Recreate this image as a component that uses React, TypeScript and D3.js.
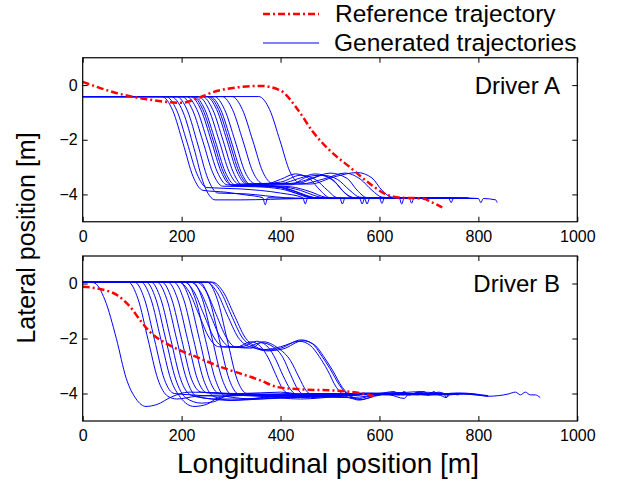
import React from 'react';
import * as d3 from 'd3';

type Pt = [number, number];

const xTicks = [0, 200, 400, 600, 800, 1000];
const yTicks = [-4, -2, 0];

// Driver A: reference trajectory
const refA: Pt[] = [[0, 0.12], [70, -0.3], [130, -0.52], [200, -0.65], [230, -0.5], [265, -0.25], [320, -0.07], [360, -0.03], [400, -0.2], [435, -0.9], [465, -1.7], [500, -2.4], [540, -3.0], [580, -3.6], [610, -3.97], [635, -4.1], [690, -4.16], [705, -4.28], [727, -4.47]];

// Driver A: generated trajectories
const a01: Pt[] = [[0, -0.42], [160, -0.42], [182, -0.93], [203, -2.14], [223, -3.34], [243, -3.85], [290, -3.92], [330, -4.02], [364, -4.12], [369, -4.38], [374, -4.12], [430, -4.15], [520, -4.13], [600, -4.15], [690, -4.12]];
const a02: Pt[] = [[0, -0.42], [168, -0.42], [190, -0.92], [211, -2.09], [231, -3.25], [251, -3.75], [320, -3.8], [400, -3.95], [445, -4.12], [450, -4.35], [455, -4.12], [530, -4.15], [620, -4.12], [760, -4.15]];
const a03: Pt[] = [[0, -0.42], [178, -0.42], [203, -0.99], [225, -2.31], [245, -3.63], [268, -4.2], [320, -4.2], [380, -4.18], [450, -4.15], [530, -4.15], [600, -4.15]];
const a04: Pt[] = [[0, -0.42], [190, -0.42], [212, -0.95], [233, -2.19], [253, -3.42], [273, -3.95], [330, -3.98], [370, -4.05], [410, -4.12], [480, -4.15], [560, -4.15], [650, -4.12]];
const a05: Pt[] = [[0, -0.42], [200, -0.42], [222, -0.91], [243, -2.06], [263, -3.21], [283, -3.7], [350, -3.72], [400, -3.8], [440, -4.0], [470, -4.12], [520, -4.15], [525, -4.35], [530, -4.15], [620, -4.13], [700, -4.15], [780, -4.12]];
const a06: Pt[] = [[0, -0.42], [210, -0.42], [231, -0.9], [252, -2.04], [272, -3.17], [292, -3.65], [360, -3.7], [400, -3.75], [430, -3.95], [460, -4.12], [500, -4.15], [560, -4.15], [565, -4.35], [570, -4.15], [650, -4.13], [740, -4.15]];
const a07: Pt[] = [[0, -0.42], [218, -0.42], [239, -0.9], [260, -2.04], [280, -3.17], [300, -3.65], [370, -3.62], [400, -3.45], [430, -3.25], [460, -3.45], [480, -3.85], [500, -4.12], [560, -4.15], [640, -4.13], [645, -4.35], [650, -4.13], [770, -4.15]];
const a08: Pt[] = [[0, -0.42], [226, -0.42], [247, -0.9], [268, -2.04], [288, -3.17], [308, -3.65], [380, -3.7], [420, -3.82], [450, -4.02], [480, -4.15], [550, -4.15], [640, -4.13], [720, -4.15]];
const a09: Pt[] = [[0, -0.42], [234, -0.42], [255, -0.9], [276, -2.04], [296, -3.17], [316, -3.62], [400, -3.6], [440, -3.4], [470, -3.25], [505, -3.45], [525, -3.85], [545, -4.12], [600, -4.15], [660, -4.12], [665, -4.32], [670, -4.12], [790, -4.15]];
const a10: Pt[] = [[0, -0.42], [242, -0.42], [263, -0.9], [284, -2.04], [304, -3.17], [324, -3.68], [400, -3.72], [440, -3.85], [470, -4.05], [500, -4.15], [570, -4.15], [575, -4.35], [580, -4.15], [680, -4.13], [760, -4.15]];
const a11: Pt[] = [[0, -0.42], [250, -0.42], [271, -0.9], [292, -2.04], [312, -3.17], [332, -3.62], [420, -3.6], [465, -3.4], [500, -3.22], [535, -3.42], [555, -3.85], [575, -4.12], [640, -4.15], [700, -4.13], [740, -4.15], [745, -4.3], [750, -4.13], [800, -4.15], [805, -4.3], [810, -4.15], [835, -4.2], [838, -4.3]];
const a12: Pt[] = [[0, -0.42], [258, -0.42], [279, -0.9], [300, -2.04], [320, -3.17], [340, -3.65], [420, -3.72], [460, -3.9], [490, -4.1], [520, -4.15], [600, -4.15], [700, -4.12]];
const a13: Pt[] = [[0, -0.42], [266, -0.42], [287, -0.9], [308, -2.04], [328, -3.17], [348, -3.6], [440, -3.62], [490, -3.42], [530, -3.22], [562, -3.45], [585, -3.85], [605, -4.1], [650, -4.15], [720, -4.12], [780, -4.15]];
const a14: Pt[] = [[0, -0.42], [282, -0.42], [303, -0.9], [324, -2.04], [344, -3.17], [364, -3.6], [400, -3.55], [440, -3.3], [470, -3.45], [495, -3.85], [515, -4.12], [580, -4.15], [660, -4.12], [750, -4.15]];
const a15: Pt[] = [[0, -0.42], [302, -0.42], [323, -0.9], [344, -2.04], [364, -3.17], [384, -3.6], [460, -3.62], [510, -3.35], [555, -3.2], [585, -3.4], [605, -3.85], [625, -4.1], [680, -4.15], [740, -4.13], [800, -4.15]];
const a16: Pt[] = [[0, -0.42], [356, -0.42], [378, -0.9], [399, -2.04], [419, -3.17], [440, -3.58], [460, -3.45], [485, -3.3], [515, -3.45], [540, -3.85], [560, -4.1], [620, -4.15], [700, -4.12], [760, -4.15]];
const a17: Pt[] = [[0, -0.42], [222, -0.42], [243, -0.9], [264, -2.04], [284, -3.17], [304, -3.68], [380, -3.68], [430, -3.9], [460, -4.1], [500, -4.15], [600, -4.13], [605, -4.33], [610, -4.13], [700, -4.15]];
const a18: Pt[] = [[0, -0.42], [254, -0.42], [275, -0.9], [296, -2.04], [316, -3.17], [336, -3.62], [420, -3.65], [455, -3.35], [480, -3.3], [510, -3.55], [530, -3.95], [550, -4.12], [620, -4.15], [730, -4.13]];
const genA: Pt[][] = [a01, a02, a03, a04, a05, a06, a07, a08, a09, a10, a11, a12, a13, a14, a15, a16, a17, a18];

// Driver B: reference trajectory
const refB: Pt[] = [[0, -0.12], [35, -0.2], [70, -0.43], [96, -0.85], [116, -1.33], [136, -1.76], [163, -2.12], [197, -2.43], [230, -2.67], [278, -3.03], [318, -3.27], [359, -3.52], [392, -3.76], [433, -3.84], [514, -3.9], [560, -3.98], [590, -4.1]];

// Driver B: generated trajectories
const b01: Pt[] = [[0, 0.05], [22, 0.03], [45, -0.6], [68, -2.0], [88, -3.45], [108, -4.2], [128, -4.47], [150, -4.4], [180, -4.12], [215, -3.95], [260, -3.97], [330, -4.05], [420, -4.0], [500, -4.05], [580, -4.02]];
const b02: Pt[] = [[0, 0.05], [92, 0.05], [112, -0.57], [132, -2.03], [152, -3.48], [172, -4.1], [190, -4.2], [230, -4.1], [300, -4.05], [380, -4.1], [460, -4.05], [540, -4.0], [640, -4.05]];
const b03: Pt[] = [[0, 0.05], [105, 0.05], [125, -0.57], [145, -2.03], [165, -3.48], [185, -4.0], [220, -4.05], [280, -4.1], [360, -4.05], [440, -4.1], [520, -4.0], [600, -4.05], [700, -4.0]];
const b04: Pt[] = [[0, 0.05], [118, 0.05], [138, -0.57], [158, -2.03], [178, -3.48], [198, -4.15], [225, -4.47], [250, -4.4], [275, -4.15], [320, -4.05], [400, -4.1], [480, -4.0], [560, -4.05]];
const b05: Pt[] = [[0, 0.05], [128, 0.05], [148, -0.57], [168, -2.03], [188, -3.48], [208, -4.15], [240, -4.35], [265, -4.3], [290, -4.1], [350, -4.02], [430, -4.05], [520, -4.0], [620, -4.05], [650, -4.18], [660, -4.0], [740, -4.05]];
const b06: Pt[] = [[0, 0.05], [138, 0.05], [158, -0.57], [178, -2.03], [198, -3.48], [218, -4.05], [260, -4.2], [300, -4.25], [360, -4.15], [420, -4.05], [500, -4.05], [580, -4.0], [680, -4.02]];
const b07: Pt[] = [[0, 0.05], [150, 0.05], [170, -0.57], [190, -2.03], [210, -3.48], [230, -4.1], [270, -4.2], [330, -4.2], [400, -4.1], [480, -4.0], [560, -4.05], [640, -4.0], [720, -4.05], [735, -4.15], [745, -4.0], [820, -4.1]];
const b08: Pt[] = [[0, 0.05], [160, 0.05], [180, -0.57], [200, -2.03], [220, -3.48], [240, -3.95], [300, -4.0], [380, -4.1], [460, -4.0], [540, -4.05], [620, -3.98], [700, -4.05]];
const b09: Pt[] = [[0, 0.05], [172, 0.05], [192, -0.57], [212, -2.03], [232, -3.48], [252, -3.98], [320, -4.0], [400, -3.95], [470, -4.1], [540, -4.05], [600, -4.0], [630, -3.93], [640, -4.05], [650, -3.93], [660, -4.05], [680, -3.95], [760, -4.05]];
const b10: Pt[] = [[0, 0.05], [184, 0.05], [204, -0.57], [224, -2.03], [244, -3.48], [264, -4.1], [300, -4.25], [360, -4.2], [440, -4.1], [520, -4.05], [600, -4.0], [650, -4.05]];
const b11: Pt[] = [[0, 0.05], [196, 0.05], [216, -0.57], [236, -2.03], [256, -3.48], [276, -4.0], [340, -4.05], [420, -4.15], [500, -4.05], [580, -3.98], [660, -4.02], [730, -4.0], [735, -4.15], [740, -4.0], [800, -4.05]];
const b12: Pt[] = [[0, 0.05], [208, 0.05], [228, -0.57], [248, -2.03], [268, -3.48], [288, -4.1], [350, -4.2], [420, -4.15], [500, -4.05], [600, -4.0], [700, -4.03]];
const b13: Pt[] = [[0, 0.05], [222, 0.05], [242, -0.57], [262, -2.03], [282, -3.48], [302, -4.05], [360, -4.1], [440, -4.2], [520, -4.1], [600, -4.0], [680, -4.02]];
const b14: Pt[] = [[0, 0.05], [236, 0.05], [256, -0.57], [276, -2.03], [296, -3.48], [316, -4.02], [380, -4.05], [460, -4.15], [540, -4.05], [620, -4.0], [690, -3.93], [700, -4.05], [710, -3.93], [720, -4.05], [760, -4.0]];
const b15: Pt[] = [[0, 0.05], [252, 0.05], [272, -0.57], [292, -2.03], [312, -3.48], [332, -4.0], [400, -4.05], [480, -4.1], [560, -4.02], [640, -4.0], [720, -4.03]];
const b16: Pt[] = [[0, 0.05], [195, 0.05], [215, -0.3], [235, -1.13], [255, -1.95], [275, -2.3], [310, -2.32], [340, -2.12], [360, -2.3], [375, -2.7], [390, -3.3], [405, -3.85], [422, -4.05], [480, -4.1], [560, -4.0], [640, -4.05], [700, -4.0]];
const b17: Pt[] = [[0, 0.05], [205, 0.05], [225, -0.3], [245, -1.13], [265, -1.95], [285, -2.3], [320, -2.3], [352, -2.1], [375, -2.32], [390, -2.75], [405, -3.35], [420, -3.85], [438, -4.08], [500, -4.12], [580, -4.0], [660, -4.05], [730, -4.0]];
const b18: Pt[] = [[0, 0.05], [218, 0.05], [238, -0.3], [258, -1.13], [278, -1.95], [298, -2.3], [330, -2.32], [360, -2.15], [385, -2.3], [405, -2.7], [420, -3.3], [435, -3.85], [452, -4.08], [520, -4.1], [600, -4.0], [680, -4.05]];
const b19: Pt[] = [[0, 0.05], [230, 0.05], [250, -0.3], [270, -1.13], [290, -1.95], [310, -2.32], [340, -2.35], [365, -2.12], [395, -2.35], [420, -2.8], [437, -3.4], [452, -3.9], [470, -4.1], [540, -4.15], [620, -4.02], [700, -4.05]];
const b20: Pt[] = [[0, 0.05], [262, 0.05], [284, -0.3], [306, -1.13], [328, -1.95], [350, -2.3], [372, -2.42], [400, -2.35], [442, -2.05], [465, -2.2], [482, -2.6], [500, -3.1], [520, -3.72], [540, -4.1], [558, -4.24], [580, -4.15], [600, -4.02], [640, -3.97], [660, -4.05], [680, -3.95], [700, -4.05], [720, -3.95], [740, -4.05], [780, -4.0], [820, -4.1], [860, -4.02], [875, -3.95], [885, -4.05], [895, -3.95], [905, -4.05], [915, -4.05], [925, -4.15]];
const b21: Pt[] = [[0, 0.05], [258, 0.05], [279, -0.3], [300, -1.13], [322, -1.95], [345, -2.3], [372, -2.45], [405, -2.38], [445, -2.08], [470, -2.25], [487, -2.65], [505, -3.15], [525, -3.78], [545, -4.12], [562, -4.22], [590, -4.1], [620, -4.0], [700, -4.05], [760, -3.98], [820, -4.08]];
const b22: Pt[] = [[0, 0.05], [250, 0.05], [271, -0.3], [292, -1.13], [314, -1.95], [338, -2.3], [368, -2.4], [400, -2.3], [438, -2.1], [460, -2.25], [478, -2.65], [495, -3.15], [513, -3.78], [532, -4.1], [552, -4.2], [580, -4.1], [640, -4.0], [700, -4.05], [770, -4.0]];
const genB: Pt[][] = [b01, b02, b03, b04, b05, b06, b07, b08, b09, b10, b11, b12, b13, b14, b15, b16, b17, b18, b19, b20, b21, b22];

const FONT = "Arial, 'Liberation Sans', Helvetica, sans-serif";

export default class extends React.Component {

    componentDidMount() {
        this._setupD3();
    }
    componentDidUpdate() {
        this._setupD3();
    }

    render() {
        return (
            <div id="graph" style={{ position: "absolute", left: 0, top: 0, width: 628, height: 484 }} />
        )
    }

    _drawPanel = (svg, id, top, bottom, gen, ref, label) => {
        const x = d3.scaleLinear().domain([0, 1000]).range([82.7, 577.3]),
            y = d3.scaleLinear().domain([-5, 1]).range([bottom, top]),
            line = d3.line<Pt>().x(d => x(d[0])).y(d => y(d[1])).curve(d3.curveMonotoneX);

        svg.append("clipPath").attr("id", id)
            .append("rect")
            .attr("x", x(0)).attr("y", top)
            .attr("width", x(1000) - x(0)).attr("height", bottom - top);

        const plot = svg.append("g").attr("clip-path", `url(#${id})`);

        // generated trajectories
        plot.append("g").selectAll("path").data(gen).enter().append("path")
            .attr("d", line)
            .attr("fill", "none")
            .attr("stroke", "#0000ff")
            .attr("stroke-width", 1);

        // reference trajectory
        plot.append("path")
            .attr("d", line(ref))
            .attr("fill", "none")
            .attr("stroke", "#ff0000")
            .attr("stroke-width", 2.5)
            .attr("stroke-dasharray", "7,3,2,3");

        // axes, ticks inward on every side
        const styleAxis = g => g
            .attr("font-size", 16)
            .attr("font-family", FONT)
            .call(g => g.select(".domain").remove())
            .call(g => g.selectAll(".tick line").attr("stroke", "#000"))
            .call(g => g.selectAll(".tick text").attr("fill", "#000"));

        svg.append("g").attr("transform", `translate(0,${bottom})`)
            .call(d3.axisBottom(x).tickValues(xTicks).tickSizeInner(-5).tickSizeOuter(0).tickPadding(9).tickFormat(d3.format("d")))
            .call(styleAxis);
        svg.append("g").attr("transform", `translate(0,${top})`)
            .call(d3.axisTop(x).tickValues(xTicks).tickSizeInner(-5).tickSizeOuter(0).tickFormat(() => ""))
            .call(styleAxis);
        svg.append("g").attr("transform", `translate(${x(0)},0)`)
            .call(d3.axisLeft(y).tickValues(yTicks).tickSizeInner(-5).tickSizeOuter(0).tickPadding(5).tickFormat(d => d < 0 ? "\u2212" + Math.abs(d) : String(d)))
            .call(styleAxis);
        svg.append("g").attr("transform", `translate(${x(1000)},0)`)
            .call(d3.axisRight(y).tickValues(yTicks).tickSizeInner(-5).tickSizeOuter(0).tickFormat(() => ""))
            .call(styleAxis);

        svg.append("rect")
            .attr("x", x(0)).attr("y", top)
            .attr("width", x(1000) - x(0)).attr("height", bottom - top)
            .attr("fill", "none").attr("stroke", "#000").attr("stroke-width", 1.2);

        svg.append("text")
            .attr("x", 560).attr("y", top + 36)
            .attr("text-anchor", "end")
            .attr("font-family", FONT).attr("font-size", 24)
            .text(label);
    }

    _setupD3 = () => {
        d3.select("#graph").select("svg").remove();
        const svg = d3.select("#graph").append("svg")
            .attr("width", 628)
            .attr("height", 484)
            .style("display", "block")
            .style("background", "#fff");

        this._drawPanel(svg, "clipA", 57.75, 221.75, genA, refA, "Driver A");
        this._drawPanel(svg, "clipB", 256, 421, genB, refB, "Driver B");

        // legend
        const legend = svg.append("g").attr("font-family", FONT).attr("font-size", 24.5);
        legend.append("line").attr("x1", 263).attr("x2", 319).attr("y1", 14).attr("y2", 14)
            .attr("stroke", "#ff0000").attr("stroke-width", 2.5).attr("stroke-dasharray", "7,3,2,3");
        legend.append("text").attr("x", 335).attr("y", 22).text("Reference trajectory");
        legend.append("line").attr("x1", 263).attr("x2", 319).attr("y1", 43).attr("y2", 43)
            .attr("stroke", "#0000ff").attr("stroke-width", 1.2);
        legend.append("text").attr("x", 334).attr("y", 51).text("Generated trajectories");

        // axis titles
        svg.append("text")
            .attr("transform", "translate(35,238) rotate(-90)")
            .attr("text-anchor", "middle")
            .attr("font-family", FONT).attr("font-size", 25)
            .text("Lateral position [m]");
        svg.append("text")
            .attr("x", 328).attr("y", 473)
            .attr("text-anchor", "middle")
            .attr("font-family", FONT).attr("font-size", 28)
            .text("Longitudinal position [m]");
    }
}
